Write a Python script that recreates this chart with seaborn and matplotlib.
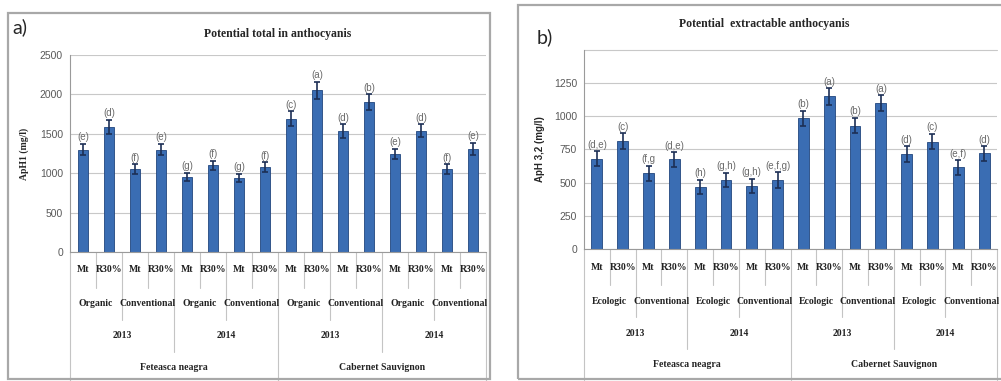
import pandas as pd
import matplotlib.pyplot as plt
import seaborn as sns
from matplotlib.patches import Rectangle
from matplotlib import transforms

varieties = ['Feteasca neagra', 'Cabernet Sauvignon']
years = ['2013', '2014']
systems_a = ['Organic', 'Conventional']
systems_b = ['Ecologic', 'Conventional']
treatments = ['Mt', 'R30%']

aph1 = [1300, 1590, 1050, 1300, 950, 1100, 940, 1080, 1690, 2050, 1535, 1900, 1245, 1540, 1055, 1310]
aph1_err = [75, 90, 65, 70, 55, 60, 55, 60, 95, 110, 85, 100, 65, 80, 60, 75]
aph1_letters = ['(e)', '(d)', '(f)', '(e)', '(g)', '(f)', '(g)', '(f)',
                '(c)', '(a)', '(d)', '(b)', '(e)', '(d)', '(f)', '(e)']

aph32 = [680, 815, 570, 675, 470, 520, 475, 520, 985, 1150, 930, 1100, 715, 810, 615, 720]
aph32_err = [55, 58, 55, 55, 52, 55, 52, 58, 58, 62, 58, 60, 58, 58, 55, 55]
aph32_letters = ['(d,e)', '(c)', '(f,g', '(d,e)', '(h)', '(g,h)', '(g,h)', '(e,f,g)',
                 '(b)', '(a)', '(b)', '(a)', '(d)', '(c)', '(e,f)', '(d)']

W, H = 1001, 381
BAR = '#3a6db3'
EDGE = '#22467e'
GRID = '#c8c8c8'
SERIF = 'Liberation Serif'
SANS = 'Liberation Sans'


def make_df(values, systems):
    rows = []
    i = 0
    for v in varieties:
        for y in years:
            for s in systems:
                for t in treatments:
                    rows.append({'id': f'{v}|{y}|{s}|{t}|{i}', 'variety': v, 'year': y,
                                 'system': s, 'treat': t, 'value': values[i]})
                    i += 1
    return pd.DataFrame(rows)


def px_axes(left, right, top, bottom):
    return fig.add_axes([left / W, 1 - bottom / H, (right - left) / W, (bottom - top) / H])


def draw_panel(ax, df, err, letters, ymax, ticks, gap, ylabel, yfont, ax_h, rows, extra_top=None):
    sns.barplot(data=df, x='id', y='value', color=BAR, width=0.42, errorbar=None,
                saturation=1, edgecolor=EDGE, linewidth=0.6, ax=ax)
    xs = list(range(len(df)))
    ax.errorbar(xs, df['value'], yerr=err, fmt='none', ecolor='#1c2f55',
                elinewidth=1.2, capsize=2.5, capthick=1.2, zorder=4)
    for x, v, e, t in zip(xs, df['value'], err, letters):
        ax.text(x, v + e + gap, t, ha='center', va='bottom', fontsize=7,
                color='#6a6a6a', family=SANS)
    ax.set_xlim(-0.5, len(df) - 0.5)
    ax.set_ylim(0, ymax)
    ax.set_yticks(ticks)
    ax.set_yticklabels([str(t) for t in ticks], fontsize=7.5, color='#595959', family=SANS)
    for t in ticks:
        ax.axhline(t, color=GRID, lw=0.8, zorder=0)
    if extra_top is not None:
        ax.axhline(extra_top, color=GRID, lw=0.8, zorder=0, clip_on=False)
    ax.set_xticks([])
    ax.set_xlabel('')
    ax.set_ylabel(ylabel, **yfont)
    for s in ['top', 'right']:
        ax.spines[s].set_visible(False)
    ax.spines['left'].set_color('#9a9a9a')
    ax.spines['bottom'].set_color('#9a9a9a')
    ax.tick_params(axis='y', length=3, color='#9a9a9a', pad=2)

    # multi-level category axis
    tr = transforms.blended_transform_factory(ax.transData, ax.transAxes)
    r = [-o / ax_h for o in rows]  # row boundaries in axes fraction
    lab = dict(ha='center', va='center', fontsize=7, family=SERIF,
               fontweight='bold', color='#222222', transform=tr, clip_on=False)
    n = len(df)
    for i in range(n):
        ax.text(i, (r[0] + r[1]) / 2, df['treat'][i], **lab)
    for i in range(0, n, 2):
        ax.text(i + 0.5, (r[1] + r[2]) / 2, df['system'][i], **lab)
    for i in range(0, n, 4):
        ax.text(i + 1.5, (r[2] + r[3]) / 2, df['year'][i], **lab)
    for i in range(0, n, 8):
        ax.text(i + 3.5, (r[3] + r[4]) / 2, df['variety'][i], **lab)
    for k in range(n + 1):
        xb = k - 0.5
        if k % 8 == 0:
            depth = r[4]
        elif k % 4 == 0:
            depth = r[3]
        elif k % 2 == 0:
            depth = r[2]
        else:
            depth = r[1]
        ax.plot([xb, xb], [0, depth], color='#c4c4c4', lw=0.8, transform=tr, clip_on=False)


fig = plt.figure(figsize=(W / 100, H / 100), dpi=100)
sns.set_style('white')
fig.patch.set_facecolor('white')

# panel frames
fig.add_artist(Rectangle((8 / W, 1 - 379 / H), 482 / W, 366 / H, transform=fig.transFigure,
                         fill=False, edgecolor='#a8a8a8', lw=1.6))
fig.add_artist(Rectangle((518 / W, 1 - 379 / H), 500 / W, 374 / H, transform=fig.transFigure,
                         fill=False, edgecolor='#a8a8a8', lw=1.6))

# panel a
ax1 = px_axes(70, 486, 55, 252)
df1 = make_df(aph1, systems_a)
draw_panel(ax1, df1, aph1_err, aph1_letters, 2500, [0, 500, 1000, 1500, 2000, 2500], 20,
           'ApH1 (mg/l)', dict(fontsize=7, family=SERIF, fontweight='bold', labelpad=8),
           197, [0, 36, 68, 100, 130])
ax1.set_title('Potential total in anthocyanis', fontsize=8.5, family=SERIF,
              fontweight='bold', pad=13)
fig.text(12 / W, 1 - 27 / H, 'a)', fontsize=14, family='Lato', va='center', ha='left')

# panel b
ax2 = px_axes(584, 997, 50, 249)
df2 = make_df(aph32, systems_b)
draw_panel(ax2, df2, aph32_err, aph32_letters, 1500, [0, 250, 500, 750, 1000, 1250], 12,
           'ApH 3,2 (mg/l)', dict(fontsize=7, family=SANS, fontweight='bold', labelpad=6),
           199, [0, 36, 68, 100, 131], extra_top=1500)
fig.text(764 / W, 1 - 24 / H, 'Potential  extractable anthocyanis', fontsize=8.5,
         family=SERIF, fontweight='bold', ha='center', va='center')
fig.text(537 / W, 1 - 37 / H, 'b)', fontsize=14, family='Lato', va='center', ha='left')

fig.savefig('out.png', dpi=100, facecolor='white')
